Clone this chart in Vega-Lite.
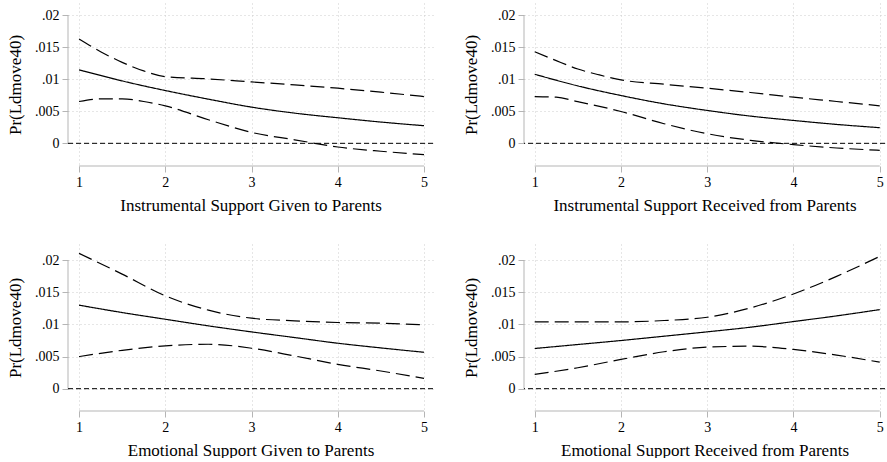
{
"$schema": "https://vega.github.io/schema/vega-lite/v6.json",
"padding": {"left": 6, "top": 3, "right": 0, "bottom": 0},
"datasets": {"d": [
{"p":1,"s":"est","x":1,"v":0.01145},{"p":1,"s":"est","x":1.25,"v":0.0106},{"p":1,"s":"est","x":1.5,"v":0.00974},{"p":1,"s":"est","x":1.75,"v":0.00896},{"p":1,"s":"est","x":2,"v":0.00824},{"p":1,"s":"est","x":2.5,"v":0.00689},{"p":1,"s":"est","x":3,"v":0.00565},{"p":1,"s":"est","x":3.5,"v":0.00471},{"p":1,"s":"est","x":4,"v":0.00399},{"p":1,"s":"est","x":4.5,"v":0.00332},{"p":1,"s":"est","x":5,"v":0.00275},
{"p":1,"s":"hi","x":1,"v":0.01627},{"p":1,"s":"hi","x":1.25,"v":0.0143},{"p":1,"s":"hi","x":1.5,"v":0.01264},{"p":1,"s":"hi","x":1.75,"v":0.0113},{"p":1,"s":"hi","x":2,"v":0.01041},{"p":1,"s":"hi","x":2.5,"v":0.01005},{"p":1,"s":"hi","x":3,"v":0.00958},{"p":1,"s":"hi","x":3.5,"v":0.00912},{"p":1,"s":"hi","x":4,"v":0.0086},{"p":1,"s":"hi","x":4.5,"v":0.00798},{"p":1,"s":"hi","x":5,"v":0.0073},
{"p":1,"s":"lo","x":1,"v":0.00653},{"p":1,"s":"lo","x":1.25,"v":0.00694},{"p":1,"s":"lo","x":1.5,"v":0.00694},{"p":1,"s":"lo","x":1.75,"v":0.00653},{"p":1,"s":"lo","x":2,"v":0.00585},{"p":1,"s":"lo","x":2.5,"v":0.00368},{"p":1,"s":"lo","x":3,"v":0.00171},{"p":1,"s":"lo","x":3.5,"v":0.00055},{"p":1,"s":"lo","x":4,"v":-0.00057},{"p":1,"s":"lo","x":4.5,"v":-0.00124},{"p":1,"s":"lo","x":5,"v":-0.00176},
{"p":2,"s":"est","x":1,"v":0.01078},{"p":2,"s":"est","x":1.5,"v":0.00896},{"p":2,"s":"est","x":2,"v":0.00746},{"p":2,"s":"est","x":2.5,"v":0.00616},{"p":2,"s":"est","x":3,"v":0.00513},{"p":2,"s":"est","x":3.5,"v":0.00425},{"p":2,"s":"est","x":4,"v":0.00357},{"p":2,"s":"est","x":4.5,"v":0.00295},{"p":2,"s":"est","x":5,"v":0.00244},
{"p":2,"s":"hi","x":1,"v":0.0143},{"p":2,"s":"hi","x":1.25,"v":0.0129},{"p":2,"s":"hi","x":1.5,"v":0.0116},{"p":2,"s":"hi","x":1.75,"v":0.01067},{"p":2,"s":"hi","x":2,"v":0.0099},{"p":2,"s":"hi","x":2.5,"v":0.00922},{"p":2,"s":"hi","x":3,"v":0.0086},{"p":2,"s":"hi","x":3.5,"v":0.00793},{"p":2,"s":"hi","x":4,"v":0.0072},{"p":2,"s":"hi","x":4.5,"v":0.00653},{"p":2,"s":"hi","x":5,"v":0.00585},
{"p":2,"s":"lo","x":1,"v":0.0073},{"p":2,"s":"lo","x":1.25,"v":0.0072},{"p":2,"s":"lo","x":1.5,"v":0.0065},{"p":2,"s":"lo","x":2,"v":0.00497},{"p":2,"s":"lo","x":2.5,"v":0.00306},{"p":2,"s":"lo","x":3,"v":0.0015},{"p":2,"s":"lo","x":3.5,"v":0.00047},{"p":2,"s":"lo","x":4,"v":-0.0002},{"p":2,"s":"lo","x":4.5,"v":-0.00073},{"p":2,"s":"lo","x":5,"v":-0.00109},
{"p":3,"s":"est","x":1,"v":0.01299},{"p":3,"s":"est","x":1.5,"v":0.01184},{"p":3,"s":"est","x":2,"v":0.0108},{"p":3,"s":"est","x":2.5,"v":0.00977},{"p":3,"s":"est","x":3,"v":0.00883},{"p":3,"s":"est","x":3.5,"v":0.00795},{"p":3,"s":"est","x":4,"v":0.00707},{"p":3,"s":"est","x":4.5,"v":0.00634},{"p":3,"s":"est","x":5,"v":0.00566},
{"p":3,"s":"hi","x":1,"v":0.02104},{"p":3,"s":"hi","x":1.5,"v":0.01782},{"p":3,"s":"hi","x":2,"v":0.01444},{"p":3,"s":"hi","x":2.5,"v":0.01221},{"p":3,"s":"hi","x":3,"v":0.01096},{"p":3,"s":"hi","x":3.5,"v":0.01055},{"p":3,"s":"hi","x":4,"v":0.01029},{"p":3,"s":"hi","x":4.5,"v":0.01018},{"p":3,"s":"hi","x":5,"v":0.00992},
{"p":3,"s":"lo","x":1,"v":0.00499},{"p":3,"s":"lo","x":1.5,"v":0.00597},{"p":3,"s":"lo","x":2,"v":0.00665},{"p":3,"s":"lo","x":2.5,"v":0.00691},{"p":3,"s":"lo","x":3,"v":0.00629},{"p":3,"s":"lo","x":3.5,"v":0.00509},{"p":3,"s":"lo","x":4,"v":0.00379},{"p":3,"s":"lo","x":4.5,"v":0.00275},{"p":3,"s":"lo","x":5,"v":0.00161},
{"p":4,"s":"est","x":1,"v":0.00625},{"p":4,"s":"est","x":1.5,"v":0.00687},{"p":4,"s":"est","x":2,"v":0.00749},{"p":4,"s":"est","x":2.5,"v":0.00816},{"p":4,"s":"est","x":3,"v":0.00884},{"p":4,"s":"est","x":3.5,"v":0.00956},{"p":4,"s":"est","x":4,"v":0.01044},{"p":4,"s":"est","x":4.5,"v":0.01132},{"p":4,"s":"est","x":5,"v":0.0123},
{"p":4,"s":"hi","x":1,"v":0.01039},{"p":4,"s":"hi","x":1.5,"v":0.01039},{"p":4,"s":"hi","x":2,"v":0.01039},{"p":4,"s":"hi","x":2.5,"v":0.0106},{"p":4,"s":"hi","x":3,"v":0.01111},{"p":4,"s":"hi","x":3.5,"v":0.01256},{"p":4,"s":"hi","x":4,"v":0.01473},{"p":4,"s":"hi","x":4.5,"v":0.01747},{"p":4,"s":"hi","x":5,"v":0.02057},
{"p":4,"s":"lo","x":1,"v":0.00222},{"p":4,"s":"lo","x":1.5,"v":0.00326},{"p":4,"s":"lo","x":2,"v":0.00455},{"p":4,"s":"lo","x":2.5,"v":0.00574},{"p":4,"s":"lo","x":3,"v":0.00646},{"p":4,"s":"lo","x":3.5,"v":0.00661},{"p":4,"s":"lo","x":4,"v":0.0061},{"p":4,"s":"lo","x":4.5,"v":0.00522},{"p":4,"s":"lo","x":5,"v":0.00413}
]},
"columns": 2,
"align": "each",
"bounds": "flush",
"spacing": {"row": 78, "column": 91},
"concat": [
{"width": 365, "height": 163, "layer": [
 {"data": {"values": [{}]}, "mark": {"type": "rule", "color": "#b5b5b5", "strokeWidth": 1}, "encoding": {"x": {"datum": 0.872}, "y": {"datum": 0}, "y2": {"datum": 0.02}}},
 {"data": {"values": [{}]}, "mark": {"type": "rule", "color": "#b5b5b5", "strokeWidth": 1}, "encoding": {"x": {"datum": 1}, "x2": {"datum": 5}, "y": {"datum": -0.00354}}},
 {"data": {"values": [{}]}, "mark": {"type": "rule", "color": "black", "strokeWidth": 1, "strokeDash": [5, 3]}, "encoding": {"y": {"datum": 0}}},
 {"data": {"name": "d"}, "transform": [{"filter": "datum.p == 1"}], "mark": {"type": "line", "color": "black", "strokeWidth": 1.2, "interpolate": "monotone"},
  "encoding": {
   "x": {"field": "x", "type": "quantitative", "scale": {"domain": [0.872, 5.104], "nice": false, "zero": false}, "axis": {"title": "Instrumental Support Given to Parents", "values": [1, 2, 3, 4, 5], "format": "d", "labelFont": "Liberation Serif"}},
   "y": {"field": "v", "type": "quantitative", "scale": {"domain": [-0.00354, 0.0219], "nice": false, "zero": false}, "axis": {"title": "Pr(Ldmove40)", "values": [0, 0.005, 0.01, 0.015, 0.02], "labelFont": "Liberation Serif", "labelExpr": "datum.value == 0 ? '0' : replace(toString(datum.value), '0.', '.')"}},
   "strokeDash": {"field": "s", "type": "nominal", "scale": {"domain": ["est", "hi", "lo"], "range": [[1, 0], [14, 6], [14, 6]]}, "legend": null}
  }}
]},
{"width": 361, "height": 163, "layer": [
 {"data": {"values": [{}]}, "mark": {"type": "rule", "color": "#b5b5b5", "strokeWidth": 1}, "encoding": {"x": {"datum": 0.876}, "y": {"datum": 0}, "y2": {"datum": 0.02}}},
 {"data": {"values": [{}]}, "mark": {"type": "rule", "color": "#b5b5b5", "strokeWidth": 1}, "encoding": {"x": {"datum": 1}, "x2": {"datum": 5}, "y": {"datum": -0.00354}}},
 {"data": {"values": [{}]}, "mark": {"type": "rule", "color": "black", "strokeWidth": 1, "strokeDash": [5, 3]}, "encoding": {"y": {"datum": 0}}},
 {"data": {"name": "d"}, "transform": [{"filter": "datum.p == 2"}], "mark": {"type": "line", "color": "black", "strokeWidth": 1.2, "interpolate": "monotone"},
  "encoding": {
   "x": {"field": "x", "type": "quantitative", "scale": {"domain": [0.876, 5.061], "nice": false, "zero": false}, "axis": {"title": "Instrumental Support Received from Parents", "values": [1, 2, 3, 4, 5], "format": "d", "labelFont": "Liberation Serif"}},
   "y": {"field": "v", "type": "quantitative", "scale": {"domain": [-0.00354, 0.0219], "nice": false, "zero": false}, "axis": {"title": "Pr(Ldmove40)", "values": [0, 0.005, 0.01, 0.015, 0.02], "labelFont": "Liberation Serif", "labelExpr": "datum.value == 0 ? '0' : replace(toString(datum.value), '0.', '.')"}},
   "strokeDash": {"field": "s", "type": "nominal", "scale": {"domain": ["est", "hi", "lo"], "range": [[1, 0], [14, 6], [14, 6]]}, "legend": null}
  }}
]},
{"width": 365, "height": 167, "layer": [
 {"data": {"values": [{}]}, "mark": {"type": "rule", "color": "#b5b5b5", "strokeWidth": 1}, "encoding": {"x": {"datum": 0.872}, "y": {"datum": 0}, "y2": {"datum": 0.02}}},
 {"data": {"values": [{}]}, "mark": {"type": "rule", "color": "#b5b5b5", "strokeWidth": 1}, "encoding": {"x": {"datum": 1}, "x2": {"datum": 5}, "y": {"datum": -0.00347}}},
 {"data": {"values": [{}]}, "mark": {"type": "rule", "color": "black", "strokeWidth": 1, "strokeDash": [5, 3]}, "encoding": {"y": {"datum": 0}}},
 {"data": {"name": "d"}, "transform": [{"filter": "datum.p == 3"}], "mark": {"type": "line", "color": "black", "strokeWidth": 1.2, "interpolate": "monotone"},
  "encoding": {
   "x": {"field": "x", "type": "quantitative", "scale": {"domain": [0.872, 5.104], "nice": false, "zero": false}, "axis": {"title": "Emotional Support Given to Parents", "values": [1, 2, 3, 4, 5], "format": "d", "labelFont": "Liberation Serif"}},
   "y": {"field": "v", "type": "quantitative", "scale": {"domain": [-0.00347, 0.0225], "nice": false, "zero": false}, "axis": {"title": "Pr(Ldmove40)", "values": [0, 0.005, 0.01, 0.015, 0.02], "labelFont": "Liberation Serif", "labelExpr": "datum.value == 0 ? '0' : replace(toString(datum.value), '0.', '.')"}},
   "strokeDash": {"field": "s", "type": "nominal", "scale": {"domain": ["est", "hi", "lo"], "range": [[1, 0], [14, 6], [14, 6]]}, "legend": null}
  }}
]},
{"width": 361, "height": 167, "layer": [
 {"data": {"values": [{}]}, "mark": {"type": "rule", "color": "#b5b5b5", "strokeWidth": 1}, "encoding": {"x": {"datum": 0.876}, "y": {"datum": 0}, "y2": {"datum": 0.02}}},
 {"data": {"values": [{}]}, "mark": {"type": "rule", "color": "#b5b5b5", "strokeWidth": 1}, "encoding": {"x": {"datum": 1}, "x2": {"datum": 5}, "y": {"datum": -0.00347}}},
 {"data": {"values": [{}]}, "mark": {"type": "rule", "color": "black", "strokeWidth": 1, "strokeDash": [5, 3]}, "encoding": {"y": {"datum": 0}}},
 {"data": {"name": "d"}, "transform": [{"filter": "datum.p == 4"}], "mark": {"type": "line", "color": "black", "strokeWidth": 1.2, "interpolate": "monotone"},
  "encoding": {
   "x": {"field": "x", "type": "quantitative", "scale": {"domain": [0.876, 5.061], "nice": false, "zero": false}, "axis": {"title": "Emotional Support Received from Parents", "values": [1, 2, 3, 4, 5], "format": "d", "labelFont": "Liberation Serif"}},
   "y": {"field": "v", "type": "quantitative", "scale": {"domain": [-0.00347, 0.0225], "nice": false, "zero": false}, "axis": {"title": "Pr(Ldmove40)", "values": [0, 0.005, 0.01, 0.015, 0.02], "labelFont": "Liberation Serif", "labelExpr": "datum.value == 0 ? '0' : replace(toString(datum.value), '0.', '.')"}},
   "strokeDash": {"field": "s", "type": "nominal", "scale": {"domain": ["est", "hi", "lo"], "range": [[1, 0], [14, 6], [14, 6]]}, "legend": null}
  }}
]}
],
"config": {
 "font": "Liberation Serif",
 "view": {"stroke": null},
 "axis": {"domain": false, "tickColor": "#b5b5b5", "tickSize": 6, "tickWidth": 1, "labelFont": "Liberation Serif", "labelFontSize": 14, "labelColor": "black", "titleFont": "Liberation Serif", "titleFontSize": 17, "titleFontWeight": "normal", "titleColor": "black", "grid": true, "gridColor": "#cccccc", "gridDash": [1, 3], "gridWidth": 1, "labelFlush": false, "labelOverlap": false},
 "axisX": {"labelPadding": 3, "titlePadding": 8, "labelFont": "Liberation Serif"},
 "axisY": {"titlePadding": 10, "labelPadding": 3, "labelFont": "Liberation Serif"}
}
}
